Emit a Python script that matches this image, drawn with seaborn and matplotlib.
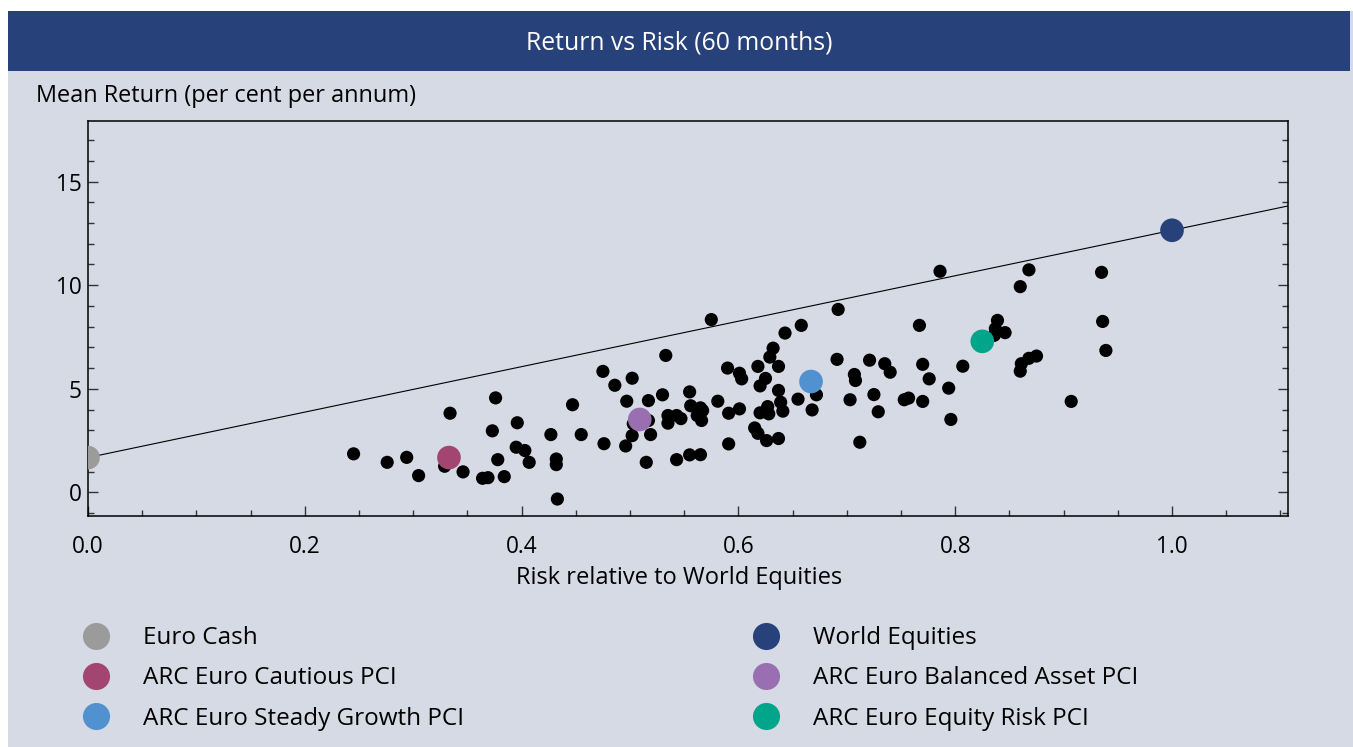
import numpy as np
import pandas as pd
import matplotlib
matplotlib.use("Agg")
import matplotlib.pyplot as plt
from matplotlib.lines import Line2D
from matplotlib.patches import Rectangle
from matplotlib.ticker import MultipleLocator, FormatStrFormatter
import seaborn as sns

# ---------------- data ----------------
fund_risk = [0.245, 0.276, 0.294, 0.305, 0.329, 0.334, 0.346, 0.364, 0.369, 0.376,
             0.373, 0.378, 0.396, 0.395, 0.403, 0.407, 0.384, 0.427, 0.432, 0.432,
             0.433, 0.447, 0.455, 0.475, 0.476, 0.486, 0.502, 0.497, 0.496, 0.502,
             0.503, 0.517, 0.517, 0.519, 0.515, 0.533, 0.530, 0.535, 0.535, 0.543,
             0.547, 0.543, 0.555, 0.556, 0.555, 0.565, 0.565, 0.567, 0.562, 0.566,
             0.575, 0.581, 0.590, 0.591, 0.591, 0.601, 0.603, 0.601, 0.615, 0.618,
             0.618, 0.620, 0.625, 0.620, 0.627, 0.628, 0.626, 0.637, 0.629, 0.632,
             0.637, 0.637, 0.639, 0.641, 0.643, 0.658, 0.655, 0.672, 0.668, 0.692,
             0.691, 0.703, 0.707, 0.708, 0.712, 0.786, 0.868, 0.935, 0.860, 0.767,
             0.839, 0.837, 0.836, 0.846, 0.936, 0.939, 0.721, 0.735, 0.740, 0.770,
             0.776, 0.807, 0.794, 0.861, 0.868, 0.875, 0.860, 0.725, 0.729, 0.753,
             0.757, 0.770, 0.796, 0.907]
fund_return = [1.86, 1.45, 1.69, 0.81, 1.26, 3.82, 0.99, 0.68, 0.71, 4.56,
               2.97, 1.58, 3.36, 2.18, 2.02, 1.45, 0.76, 2.79, 1.61, 1.34,
               -0.32, 4.23, 2.79, 5.84, 2.35, 5.17, 5.51, 4.40, 2.24, 2.74,
               3.31, 4.43, 3.47, 2.79, 1.45, 6.61, 4.71, 3.71, 3.34, 3.71,
               3.56, 1.58, 4.85, 4.18, 1.81, 1.82, 4.08, 3.95, 3.71, 3.47,
               8.34, 4.40, 6.00, 3.82, 2.34, 5.75, 5.48, 4.03, 3.11, 2.85,
               6.08, 5.14, 5.50, 3.84, 4.14, 3.79, 2.50, 2.60, 6.53, 6.96,
               6.08, 4.92, 4.35, 3.92, 7.69, 8.06, 4.50, 4.71, 3.98, 8.83,
               6.42, 4.47, 5.69, 5.40, 2.42, 10.67, 10.74, 10.62, 9.93, 8.06,
               8.30, 7.90, 7.58, 7.71, 8.25, 6.85, 6.38, 6.21, 5.80, 6.18,
               5.48, 6.09, 5.03, 6.21, 6.47, 6.58, 5.85, 4.72, 3.89, 4.47,
               4.55, 4.39, 3.52, 4.39]

index_names = ["Euro Cash", "ARC Euro Cautious PCI", "ARC Euro Steady Growth PCI",
               "World Equities", "ARC Euro Balanced Asset PCI", "ARC Euro Equity Risk PCI"]
index_risk = [0.0, 0.333, 0.667, 1.0, 0.509, 0.825]
index_return = [1.68, 1.68, 5.35, 12.65, 3.52, 7.29]
index_colors = ["#9b9b9b", "#a24671", "#5291cf", "#27427a", "#9a6fb2", "#00a58a"]

title_text = "Return vs Risk (60 months)"
y_title = "Mean Return (per cent per annum)"
x_title = "Risk relative to World Equities"

# ---------------- style ----------------
BG = "#d5dae5"
BANNER = "#27427a"
FONT = ["Open Sans", "DejaVu Sans"]
FS = 16.3
plt.rcParams["font.family"] = FONT

W, H = 1353, 747
fig = plt.figure(figsize=(W / 100, H / 100), dpi=100, facecolor="white")

def fx(px):
    return px / W

def fy(py):
    return 1 - py / H

# panel background and banner
fig.patches.append(Rectangle((fx(8), 0), 1 - fx(8), fy(11), transform=fig.transFigure,
                             facecolor=BG, edgecolor="none", zorder=-2))
fig.patches.append(Rectangle((fx(8), fy(71)), fx(1350) - fx(8), fy(11) - fy(71),
                             transform=fig.transFigure, facecolor=BANNER,
                             edgecolor="none", zorder=-1))
fig.text(fx(679), fy(43), title_text, color="white", fontsize=17.8,
         ha="center", va="center")

ax = fig.add_axes([fx(88), fy(516), fx(1288) - fx(88), fy(121.3) - fy(516)])
ax.set_zorder(5)
ax.set_facecolor(BG)

df_funds = pd.DataFrame({"risk": fund_risk, "ret": fund_return})
df_idx = pd.DataFrame({"risk": index_risk, "ret": index_return, "name": index_names})

# capital market line
ax.axline((index_risk[0], index_return[0]), (index_risk[3], index_return[3]),
          color="black", lw=0.8, zorder=2)

sns.scatterplot(data=df_funds, x="risk", y="ret", ax=ax, color="black",
                s=90, edgecolor="none", linewidth=0, zorder=3, legend=False)
sns.scatterplot(data=df_idx, x="risk", y="ret", hue="name", hue_order=index_names,
                palette=index_colors, ax=ax, s=290, edgecolor="none", linewidth=0,
                zorder=4, legend=False)

ax.set_xlim(0, 1.107)
ax.set_ylim(-1.14, 17.91)
ax.set_xlabel("")
ax.set_ylabel("")
ax.xaxis.set_major_locator(MultipleLocator(0.2))
ax.xaxis.set_minor_locator(MultipleLocator(0.05))
ax.yaxis.set_major_locator(MultipleLocator(5))
ax.yaxis.set_minor_locator(MultipleLocator(1))
ax.xaxis.set_major_formatter(FormatStrFormatter("%.1f"))
ax.tick_params(axis="x", which="both", direction="in", top=False, bottom=True,
               color="#333333", labelsize=FS, pad=14, width=1)
ax.tick_params(axis="y", which="both", direction="in", left=True, right=True,
               color="#333333", labelsize=FS, pad=4.5, width=1)
ax.tick_params(which="major", length=7.2)
ax.tick_params(which="minor", length=4.3)
for sp in ax.spines.values():
    sp.set_color("black")
    sp.set_linewidth(1.1)

fig.text(fx(36), fy(96), y_title, fontsize=16.9, ha="left", va="center")
fig.text(fx(679), fy(578), x_title, fontsize=17.0, ha="center", va="center")

# legend: two columns
def handle(c):
    return Line2D([], [], marker="o", linestyle="none", markersize=19.5,
                  markerfacecolor=c, markeredgecolor="none")

LFS = 17.5
for col, xpx in enumerate([84, 754]):
    names = index_names[col * 3:(col + 1) * 3]
    cols = index_colors[col * 3:(col + 1) * 3]
    fig.legend([handle(c) for c in cols], names, loc="center left",
               bbox_to_anchor=(fx(xpx), fy(678.5)), frameon=False, fontsize=LFS,
               handlelength=1.0, handletextpad=1.42, labelspacing=0.66,
               borderpad=0, borderaxespad=0)

fig.savefig("out.png", dpi=100, facecolor="white")
